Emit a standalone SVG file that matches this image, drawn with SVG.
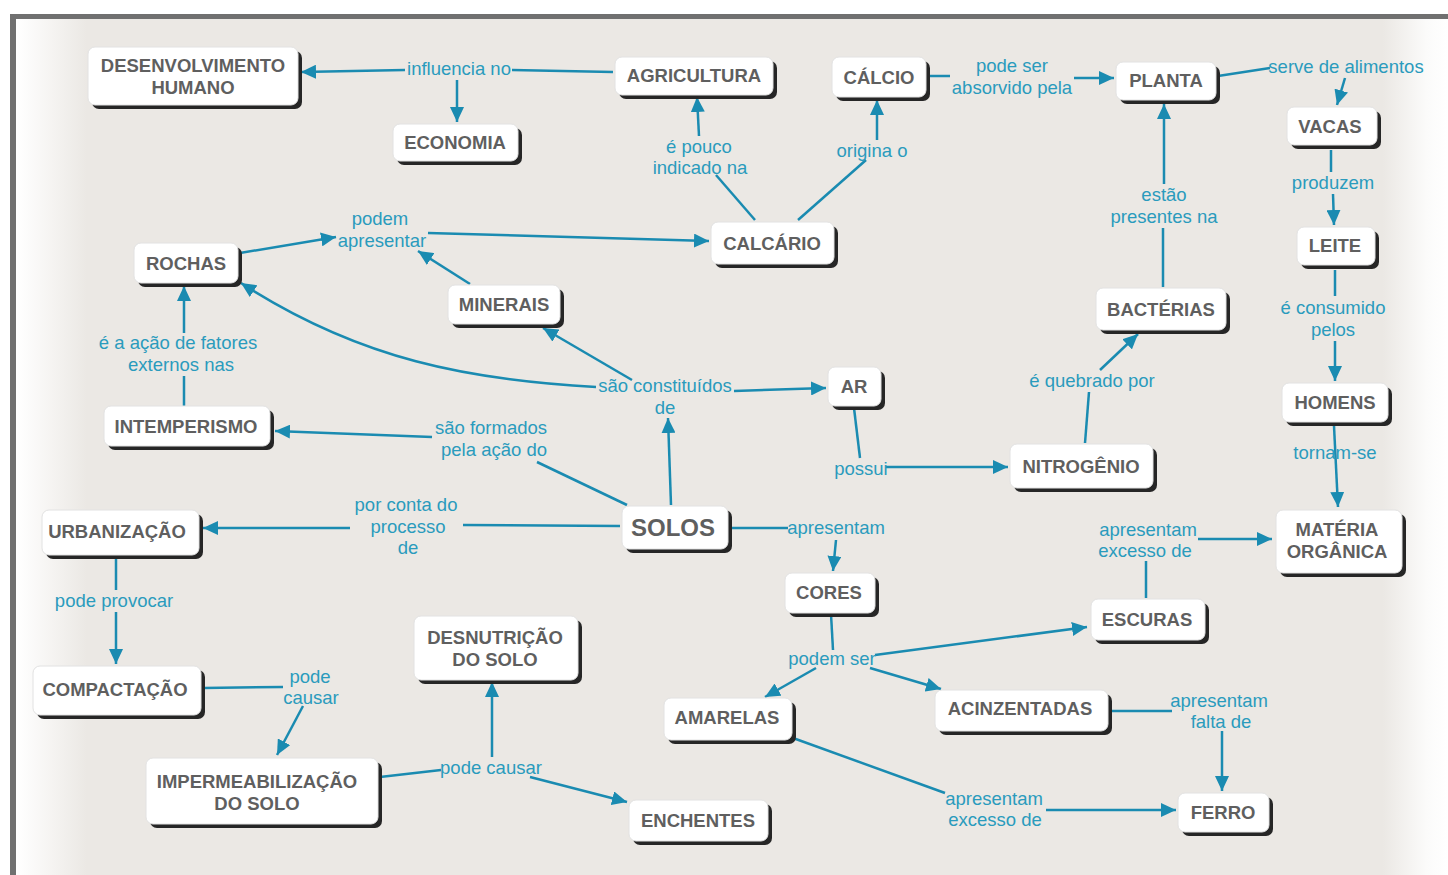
<svg xmlns="http://www.w3.org/2000/svg" width="1448" height="875" viewBox="0 0 1448 875">
<defs>
<linearGradient id="bg" x1="0" y1="0" x2="1448" y2="0" gradientUnits="userSpaceOnUse">
<stop offset="0" stop-color="#ffffff"/>
<stop offset="0.012" stop-color="#ffffff"/>
<stop offset="0.06" stop-color="#ebe8e4"/>
<stop offset="0.955" stop-color="#ebe8e4"/>
<stop offset="0.985" stop-color="#fbfbfa"/>
<stop offset="1" stop-color="#ffffff"/>
</linearGradient>
<marker id="ah" markerUnits="userSpaceOnUse" markerWidth="16" markerHeight="14" refX="15" refY="7" orient="auto">
<path d="M0,0 L15,7 L0,14 Z" fill="#1a8bb1"/>
</marker>
<style>
.n rect.s{fill:#262626}
.n rect.b{fill:#ffffff;stroke:#e2e2e2;stroke-width:1}
.n text{font-family:"Liberation Sans",Arial,sans-serif;font-weight:bold;font-size:18.5px;fill:#5f5f5f;text-anchor:middle}
.c line,.c path{stroke:#1a8bb1;stroke-width:2.5;fill:none}
.c .a{marker-end:url(#ah)}
.l text{font-family:"Liberation Sans",Arial,sans-serif;font-size:18.5px;fill:#2a9bbd;text-anchor:middle}
</style>
</defs>
<rect x="0" y="0" width="1448" height="875" fill="#ffffff"/>
<rect x="16" y="19" width="1432" height="856" fill="url(#bg)"/>
<rect x="10" y="14" width="1438" height="5" fill="#707070"/>
<rect x="10" y="14" width="6" height="861" fill="#707070"/>

<g id="connectors" class="c">
<line x1="613" y1="72" x2="512" y2="70"/>
<line class="a" x1="405" y1="70" x2="301" y2="72"/>
<line class="a" x1="457" y1="80" x2="457" y2="122"/>
<line x1="755" y1="220" x2="716" y2="175"/>
<line class="a" x1="699" y1="136" x2="697" y2="97"/>
<line x1="798" y1="220" x2="866" y2="160"/>
<line class="a" x1="877" y1="140" x2="877" y2="100"/>
<line x1="928" y1="76" x2="950" y2="76"/>
<line class="a" x1="1074" y1="78" x2="1114" y2="78"/>
<line x1="1218" y1="76" x2="1270" y2="68"/>
<line class="a" x1="1345" y1="78" x2="1337" y2="105"/>
<line x1="1331" y1="150" x2="1331" y2="172"/>
<line class="a" x1="1333" y1="194" x2="1334" y2="225"/>
<line x1="1335" y1="270" x2="1335" y2="296"/>
<line class="a" x1="1335" y1="341" x2="1335" y2="381"/>
<line class="a" x1="1334" y1="426" x2="1338" y2="507"/>
<line x1="1163" y1="287" x2="1163" y2="228"/>
<line class="a" x1="1164" y1="184" x2="1164" y2="104"/>
<line x1="1085" y1="443" x2="1089" y2="392"/>
<line class="a" x1="1100" y1="370" x2="1138" y2="334"/>
<line x1="854" y1="408" x2="860" y2="458"/>
<line class="a" x1="886" y1="467" x2="1008" y2="467"/>
<line class="a" x1="671" y1="505" x2="668" y2="418"/>
<line class="a" x1="734" y1="391" x2="826" y2="388"/>
<line class="a" x1="632" y1="380" x2="543" y2="328"/>
<path class="a" d="M596,387 C470,380 360,360 241,283"/>
<line x1="627" y1="505" x2="537" y2="462"/>
<line class="a" x1="432" y1="437" x2="275" y2="431"/>
<line x1="184" y1="406" x2="184" y2="376"/>
<line class="a" x1="184" y1="333" x2="184" y2="286"/>
<line class="a" x1="240" y1="253" x2="336" y2="237"/>
<line class="a" x1="428" y1="233" x2="709" y2="241"/>
<line class="a" x1="470" y1="284" x2="418" y2="251"/>
<line x1="620" y1="526" x2="463" y2="525"/>
<line class="a" x1="350" y1="528" x2="203" y2="528"/>
<line x1="730" y1="528" x2="788" y2="528"/>
<line class="a" x1="836" y1="540" x2="833" y2="571"/>
<line x1="116" y1="556" x2="116" y2="590"/>
<line class="a" x1="116" y1="612" x2="116" y2="664"/>
<line x1="203" y1="688" x2="283" y2="687"/>
<line class="a" x1="303" y1="706" x2="277" y2="755"/>
<line x1="380" y1="777" x2="441" y2="770"/>
<line class="a" x1="492" y1="757" x2="492" y2="682"/>
<line class="a" x1="530" y1="777" x2="627" y2="802"/>
<line x1="831" y1="614" x2="833" y2="650"/>
<line class="a" x1="816" y1="668" x2="765" y2="697"/>
<line class="a" x1="870" y1="668" x2="941" y2="689"/>
<line class="a" x1="875" y1="655" x2="1087" y2="627"/>
<line x1="1146" y1="598" x2="1146" y2="561"/>
<line class="a" x1="1198" y1="539" x2="1272" y2="539"/>
<line x1="1110" y1="711" x2="1172" y2="711"/>
<line class="a" x1="1222" y1="731" x2="1222" y2="791"/>
<line x1="793" y1="738" x2="945" y2="793"/>
<line class="a" x1="1046" y1="810" x2="1176" y2="810"/>
</g>

<g id="labels" class="l">
<text x="459" y="75">influencia no</text>
<text x="699" y="153">é pouco</text>
<text x="700" y="174">indicado na</text>
<text x="872" y="157">origina o</text>
<text x="1012" y="72">pode ser</text>
<text x="1012" y="94">absorvido pela</text>
<text x="1346" y="73">serve de alimentos</text>
<text x="1333" y="189">produzem</text>
<text x="1333" y="314">é consumido</text>
<text x="1333" y="336">pelos</text>
<text x="1335" y="459">tornam-se</text>
<text x="1164" y="201">estão</text>
<text x="1164" y="223">presentes na</text>
<text x="1092" y="387">é quebrado por</text>
<text x="861" y="475">possui</text>
<text x="665" y="392">são constituídos</text>
<text x="665" y="414">de</text>
<text x="380" y="225">podem</text>
<text x="382" y="247">apresentar</text>
<text x="178" y="349">é a ação de fatores</text>
<text x="181" y="371">externos nas</text>
<text x="491" y="434">são formados</text>
<text x="494" y="456">pela ação do</text>
<text x="406" y="511">por conta do</text>
<text x="408" y="533">processo</text>
<text x="408" y="554">de</text>
<text x="836" y="534">apresentam</text>
<text x="114" y="607">pode provocar</text>
<text x="310" y="683">pode</text>
<text x="311" y="704">causar</text>
<text x="491" y="774">pode causar</text>
<text x="832" y="665">podem ser</text>
<text x="1148" y="536">apresentam</text>
<text x="1145" y="557">excesso de</text>
<text x="1219" y="707">apresentam</text>
<text x="1221" y="728">falta de</text>
<text x="994" y="805">apresentam</text>
<text x="995" y="826">excesso de</text>
</g>

<g id="n-desenvolvimento" class="n"><rect class="s" x="92" y="51" width="210" height="58" rx="7"/><rect class="b" x="88" y="47" width="210" height="58" rx="7"/><text x="193" y="72">DESENVOLVIMENTO</text><text x="193" y="94">HUMANO</text></g>
<g id="n-economia" class="n"><rect class="s" x="397" y="128" width="125" height="37" rx="7"/><rect class="b" x="393" y="124" width="125" height="37" rx="7"/><text x="455" y="149">ECONOMIA</text></g>
<g id="n-agricultura" class="n"><rect class="s" x="619" y="61" width="158" height="38" rx="7"/><rect class="b" x="615" y="57" width="158" height="38" rx="7"/><text x="694" y="82">AGRICULTURA</text></g>
<g id="n-calcio" class="n"><rect class="s" x="836" y="61" width="94" height="40" rx="7"/><rect class="b" x="832" y="57" width="94" height="40" rx="7"/><text x="879" y="84">CÁLCIO</text></g>
<g id="n-planta" class="n"><rect class="s" x="1120" y="66" width="100" height="38" rx="7"/><rect class="b" x="1116" y="62" width="100" height="38" rx="7"/><text x="1166" y="87">PLANTA</text></g>
<g id="n-vacas" class="n"><rect class="s" x="1291" y="111" width="90" height="38" rx="7"/><rect class="b" x="1287" y="107" width="90" height="38" rx="7"/><text x="1330" y="133">VACAS</text></g>
<g id="n-leite" class="n"><rect class="s" x="1301" y="231" width="78" height="38" rx="7"/><rect class="b" x="1297" y="227" width="78" height="38" rx="7"/><text x="1335" y="252">LEITE</text></g>
<g id="n-calcario" class="n"><rect class="s" x="715" y="226" width="123" height="42" rx="7"/><rect class="b" x="711" y="222" width="123" height="42" rx="7"/><text x="772" y="250">CALCÁRIO</text></g>
<g id="n-rochas" class="n"><rect class="s" x="138" y="247" width="104" height="40" rx="7"/><rect class="b" x="134" y="243" width="104" height="40" rx="7"/><text x="186" y="270">ROCHAS</text></g>
<g id="n-minerais" class="n"><rect class="s" x="452" y="289" width="112" height="39" rx="7"/><rect class="b" x="448" y="285" width="112" height="39" rx="7"/><text x="504" y="311">MINERAIS</text></g>
<g id="n-bacterias" class="n"><rect class="s" x="1100" y="292" width="130" height="42" rx="7"/><rect class="b" x="1096" y="288" width="130" height="42" rx="7"/><text x="1161" y="316">BACTÉRIAS</text></g>
<g id="n-homens" class="n"><rect class="s" x="1286" y="387" width="106" height="39" rx="7"/><rect class="b" x="1282" y="383" width="106" height="39" rx="7"/><text x="1335" y="409">HOMENS</text></g>
<g id="n-ar" class="n"><rect class="s" x="832" y="371" width="53" height="39" rx="7"/><rect class="b" x="828" y="367" width="53" height="39" rx="7"/><text x="854" y="393">AR</text></g>
<g id="n-intemperismo" class="n"><rect class="s" x="108" y="410" width="166" height="40" rx="7"/><rect class="b" x="104" y="406" width="166" height="40" rx="7"/><text x="186" y="433">INTEMPERISMO</text></g>
<g id="n-nitrogenio" class="n"><rect class="s" x="1014" y="448" width="143" height="44" rx="7"/><rect class="b" x="1010" y="444" width="143" height="44" rx="7"/><text x="1081" y="473">NITROGÊNIO</text></g>
<g id="n-solos" class="n"><rect class="s" x="626" y="510" width="106" height="43" rx="7"/><rect class="b" x="622" y="506" width="106" height="43" rx="7"/><text x="673" y="536" style="font-size:24px">SOLOS</text></g>
<g id="n-urbanizacao" class="n"><rect class="s" x="46" y="514" width="157" height="45" rx="7"/><rect class="b" x="42" y="510" width="157" height="45" rx="7"/><text x="117" y="538">URBANIZAÇÃO</text></g>
<g id="n-cores" class="n"><rect class="s" x="789" y="577" width="90" height="40" rx="7"/><rect class="b" x="785" y="573" width="90" height="40" rx="7"/><text x="829" y="599">CORES</text></g>
<g id="n-materia" class="n"><rect class="s" x="1280" y="514" width="126" height="63" rx="7"/><rect class="b" x="1276" y="510" width="126" height="63" rx="7"/><text x="1337" y="536">MATÉRIA</text><text x="1337" y="558">ORGÂNICA</text></g>
<g id="n-escuras" class="n"><rect class="s" x="1095" y="603" width="114" height="41" rx="7"/><rect class="b" x="1091" y="599" width="114" height="41" rx="7"/><text x="1147" y="626">ESCURAS</text></g>
<g id="n-desnutricao" class="n"><rect class="s" x="418" y="620" width="164" height="64" rx="7"/><rect class="b" x="414" y="616" width="164" height="64" rx="7"/><text x="495" y="644">DESNUTRIÇÃO</text><text x="495" y="666">DO SOLO</text></g>
<g id="n-compactacao" class="n"><rect class="s" x="37" y="670" width="168" height="49" rx="7"/><rect class="b" x="33" y="666" width="168" height="49" rx="7"/><text x="115" y="696">COMPACTAÇÃO</text></g>
<g id="n-acinzentadas" class="n"><rect class="s" x="939" y="694" width="173" height="41" rx="7"/><rect class="b" x="935" y="690" width="173" height="41" rx="7"/><text x="1020" y="715">ACINZENTADAS</text></g>
<g id="n-amarelas" class="n"><rect class="s" x="668" y="702" width="128" height="42" rx="7"/><rect class="b" x="664" y="698" width="128" height="42" rx="7"/><text x="727" y="724">AMARELAS</text></g>
<g id="n-impermeabilizacao" class="n"><rect class="s" x="150" y="762" width="232" height="66" rx="7"/><rect class="b" x="146" y="758" width="232" height="66" rx="7"/><text x="257" y="788">IMPERMEABILIZAÇÃO</text><text x="257" y="810">DO SOLO</text></g>
<g id="n-enchentes" class="n"><rect class="s" x="633" y="804" width="139" height="41" rx="7"/><rect class="b" x="629" y="800" width="139" height="41" rx="7"/><text x="698" y="827">ENCHENTES</text></g>
<g id="n-ferro" class="n"><rect class="s" x="1182" y="797" width="91" height="39" rx="7"/><rect class="b" x="1178" y="793" width="91" height="39" rx="7"/><text x="1223" y="819">FERRO</text></g>
</svg>
